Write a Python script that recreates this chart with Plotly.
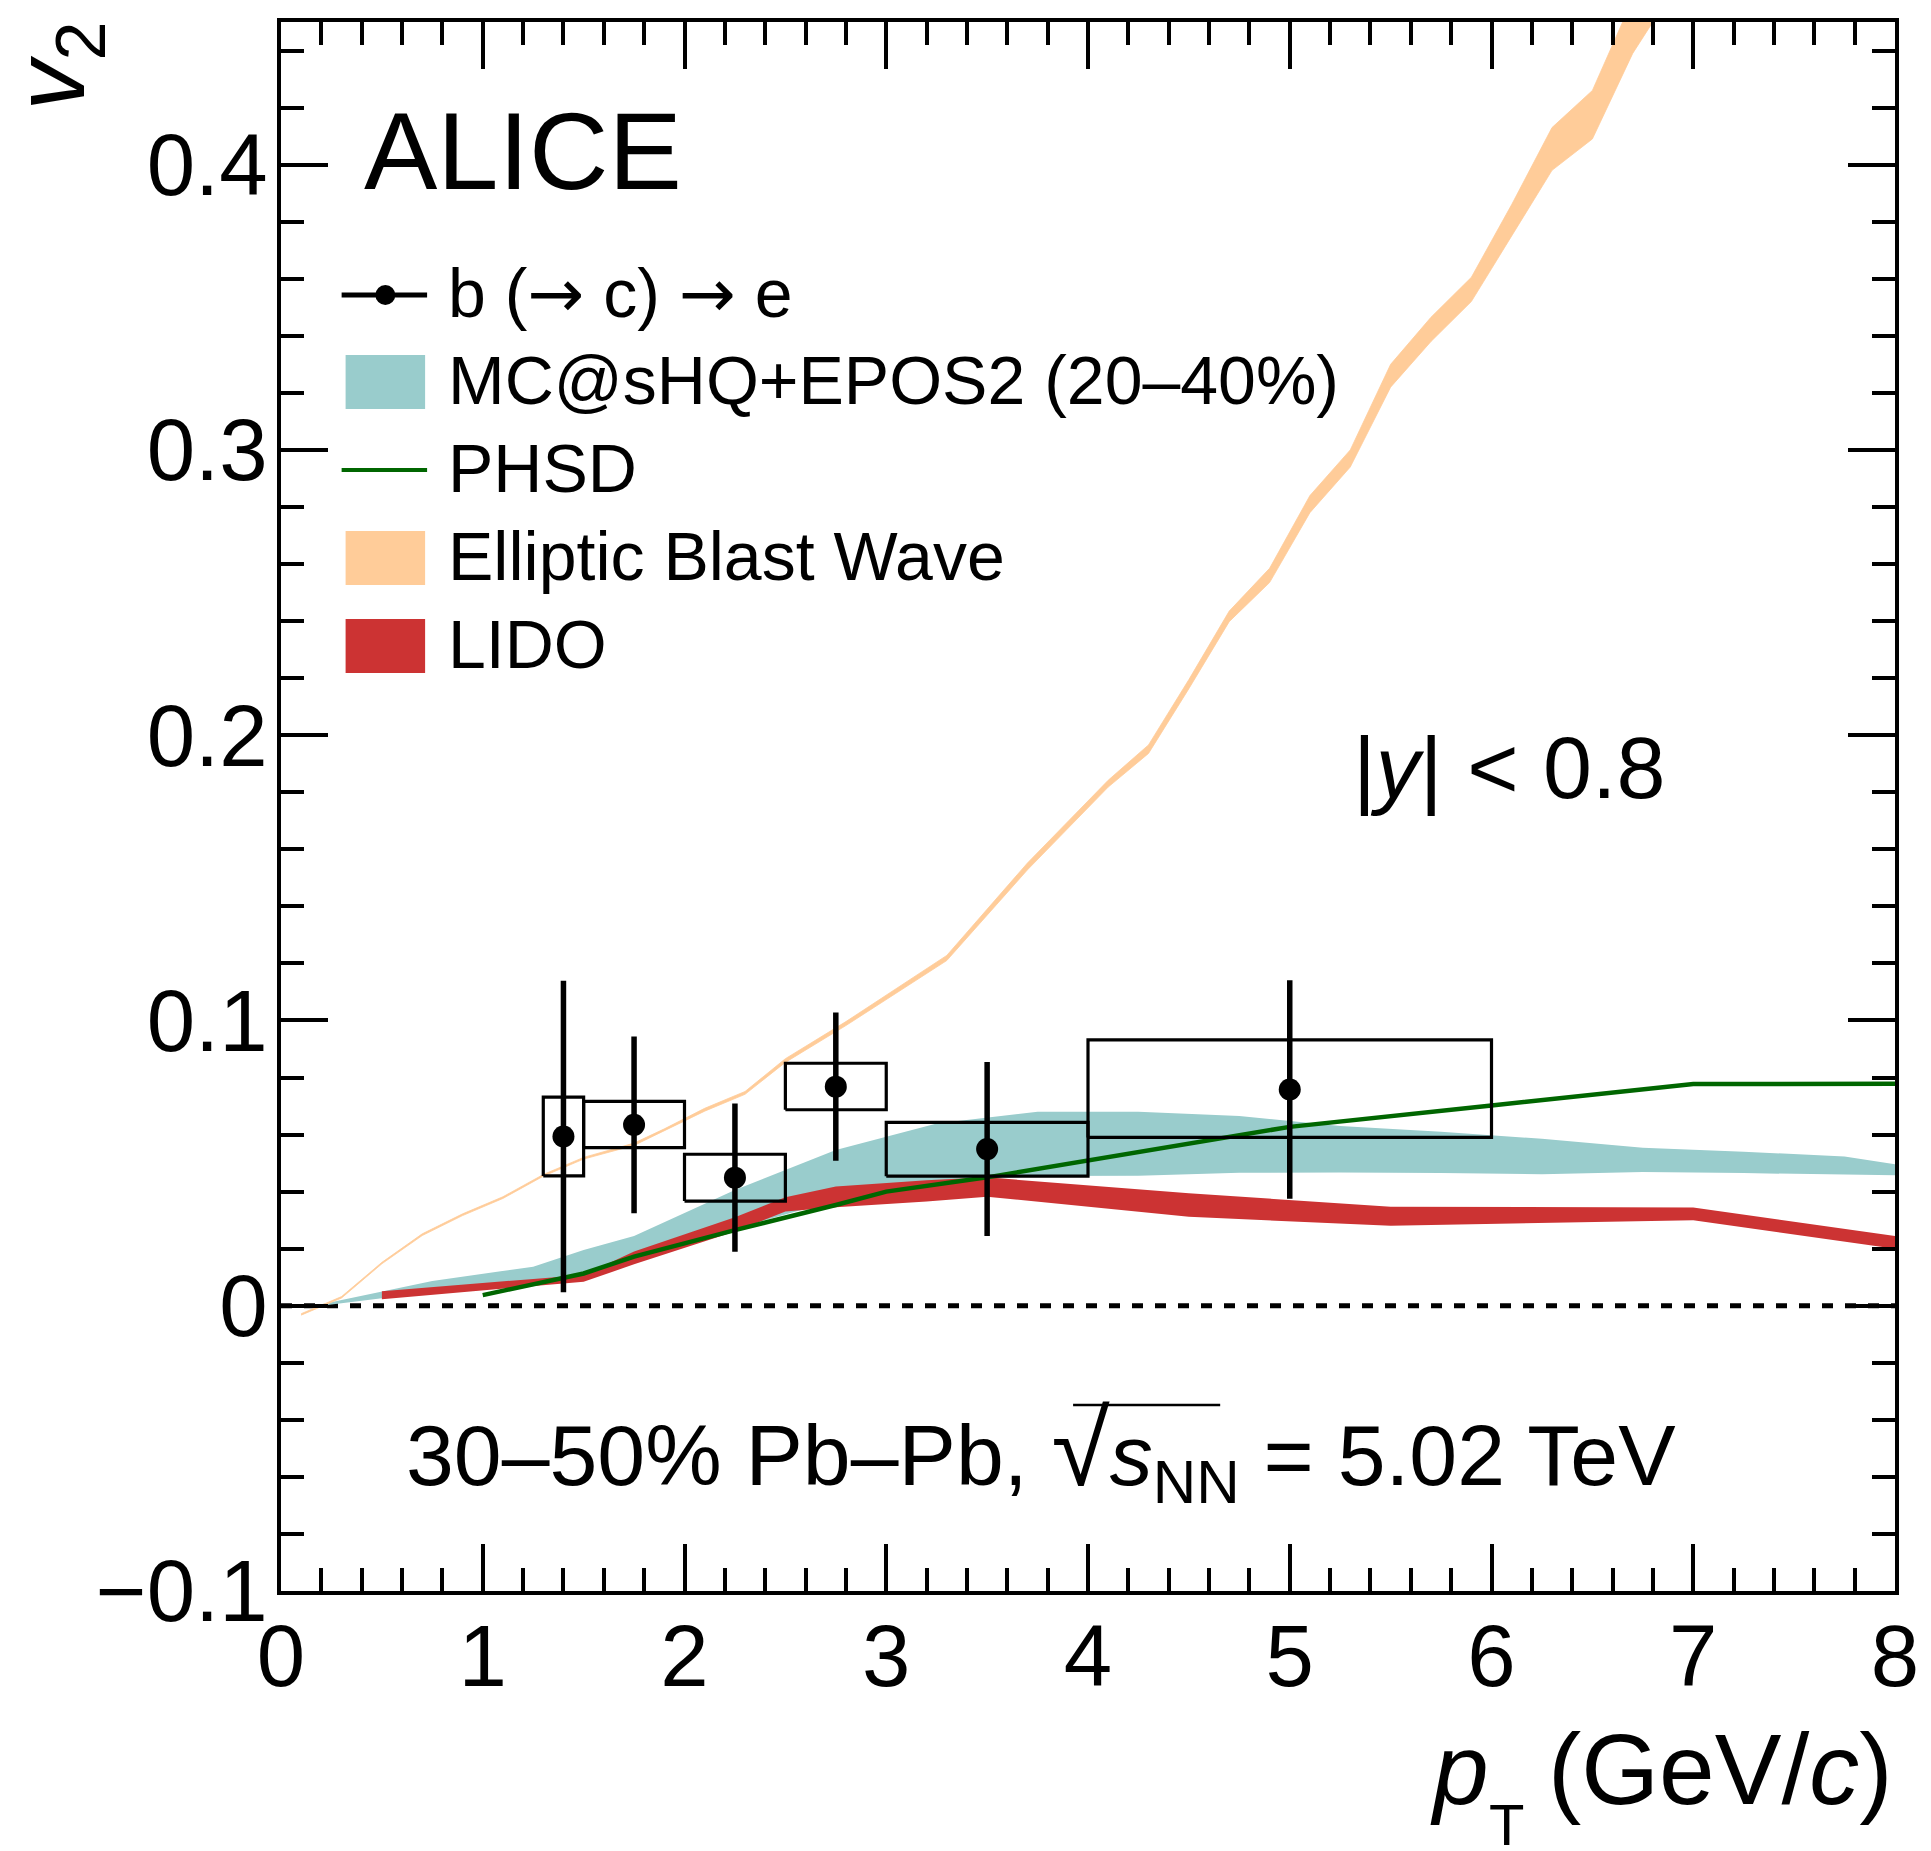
import plotly.graph_objects as go

# ---------------- data ----------------
pt = [1.4, 1.75, 2.25, 2.75, 3.5, 5.0]
v2 = [0.0593, 0.0634, 0.0449, 0.0768, 0.0549, 0.0758]
stat = [0.0546, 0.031, 0.026, 0.026, 0.0305, 0.0383]
box_x0 = [1.3, 1.5, 2.0, 2.5, 3.0, 4.0]
box_x1 = [1.5, 2.0, 2.5, 3.0, 4.0, 6.0]
sys_lo = [0.0455, 0.0554, 0.0367, 0.0687, 0.0454, 0.0590]
sys_hi = [0.0731, 0.0716, 0.0531, 0.0850, 0.0643, 0.0932]

mc_x = [0.2, 0.5, 0.75, 1.25, 1.5, 1.75, 2.25, 2.75, 3.25, 3.75, 4.25, 4.75, 5.25, 5.75, 6.25, 6.75, 7.25, 7.75, 8.0]
mc_hi = [0.0005, 0.005, 0.0087, 0.0137, 0.0195, 0.0244, 0.0406, 0.0546, 0.0639, 0.0680, 0.0680, 0.0665, 0.0630, 0.0610, 0.0585, 0.0554, 0.0540, 0.0523, 0.0496]
mc_lo = [0.0, 0.0026, 0.005, 0.0085, 0.0100, 0.0150, 0.0270, 0.0370, 0.0430, 0.0455, 0.0456, 0.0466, 0.0467, 0.0465, 0.0461, 0.0469, 0.0465, 0.0460, 0.0457]

bw_x = [0.1, 0.3, 0.5, 0.7, 0.9, 1.1, 1.3, 1.5, 1.75, 1.9, 2.1, 2.3, 2.5, 2.8, 3.3, 3.7, 4.1, 4.3, 4.5, 4.7, 4.9, 5.1, 5.3, 5.5, 5.7, 5.9, 6.1, 6.3, 6.5, 6.6, 6.7, 6.8]
bw_lo = [-0.0033, 0.0027, 0.0147, 0.0246, 0.0316, 0.0376, 0.0454, 0.0514, 0.0562, 0.0612, 0.0682, 0.0741, 0.0853, 0.0982, 0.1210, 0.1528, 0.1818, 0.1936, 0.2163, 0.2398, 0.2535, 0.2780, 0.2940, 0.3220, 0.3380, 0.3520, 0.3750, 0.3980, 0.4090, 0.4240, 0.4390, 0.4500]
bw_hi = [-0.0028, 0.0032, 0.0152, 0.0252, 0.0322, 0.0382, 0.0460, 0.0520, 0.0570, 0.0620, 0.0692, 0.0751, 0.0866, 0.0996, 0.1228, 0.1552, 0.1842, 0.1966, 0.2195, 0.2435, 0.2585, 0.2840, 0.3000, 0.3300, 0.3465, 0.3605, 0.3860, 0.4130, 0.4260, 0.4420, 0.4580, 0.4700]

lido_x = [0.5, 1.5, 1.75, 2.25, 2.5, 2.75, 3.2, 3.5, 4.5, 5.5, 7.0, 8.0]
lido_hi = [0.0051, 0.0108, 0.0190, 0.0310, 0.0380, 0.0418, 0.0440, 0.0450, 0.0394, 0.0347, 0.0344, 0.0244]
lido_lo = [0.0023, 0.0084, 0.0145, 0.0260, 0.0330, 0.0345, 0.0365, 0.0382, 0.0312, 0.0280, 0.0300, 0.0200]

phsd_x = [1.0, 1.5, 1.75, 2.25, 2.75, 3.0, 3.5, 4.0, 5.0, 6.0, 7.0, 8.0]
phsd_y = [0.0037, 0.0113, 0.0172, 0.0265, 0.0353, 0.0400, 0.0450, 0.0510, 0.0627, 0.0702, 0.0777, 0.0778]

x_ticks = [0, 1, 2, 3, 4, 5, 6, 7, 8]
x_ticklabels = ["0", "1", "2", "3", "4", "5", "6", "7", "8"]
y_ticks = [-0.1, 0, 0.1, 0.2, 0.3, 0.4]
y_ticklabels = ["\u22120.1", "0", "0.1", "0.2", "0.3", "0.4"]

ARROW = '<span style="font-family:DejaVu Sans">\u2192</span>'
legend_labels = ["b (" + ARROW + " c) " + ARROW + " e", "MC@sHQ+EPOS2 (20\u201340%)", "PHSD",
                 "Elliptic Blast Wave", "LIDO"]

TEAL = "#99cccc"
ORANGE = "#ffcc99"
RED = "#cc3333"
GREEN = "#006600"
FONT = "Liberation Sans, Arial, Helvetica, sans-serif"

W, H = 1931, 1851
L, R, T, B = 281, 26, 22, 260
PW, PH = W - L - R, H - T - B


def px(xp):
    return (xp - L) / PW


def py(yp):
    return (H - B - yp) / PH


def band(x, lo, hi):
    return x + x[::-1], hi + lo[::-1]


fig = go.Figure()

# zero line
fig.add_trace(go.Scatter(x=[x_ticks[0], x_ticks[-1]], y=[0, 0], mode="lines",
                         line=dict(color="black", width=5, dash="11px,12px"),
                         hoverinfo="skip", showlegend=False))

bx, by = band(mc_x, mc_lo, mc_hi)
fig.add_trace(go.Scatter(x=bx, y=by, fill="toself", fillcolor=TEAL, mode="lines",
                         line=dict(width=0, color=TEAL), showlegend=False))
bx, by = band(bw_x, bw_lo, bw_hi)
fig.add_trace(go.Scatter(x=bx, y=by, fill="toself", fillcolor=ORANGE, mode="lines",
                         line=dict(width=0.8, color=ORANGE), showlegend=False))
bx, by = band(lido_x, lido_lo, lido_hi)
fig.add_trace(go.Scatter(x=bx, y=by, fill="toself", fillcolor=RED, mode="lines",
                         line=dict(width=0, color=RED), showlegend=False))
fig.add_trace(go.Scatter(x=phsd_x, y=phsd_y, mode="lines",
                         line=dict(color=GREEN, width=4.5), showlegend=False))

# systematic boxes
sx, sy = [], []
for a, b_, lo, hi in zip(box_x0, box_x1, sys_lo, sys_hi):
    sx += [a, b_, b_, a, a, None]
    sy += [lo, lo, hi, hi, lo, None]
fig.add_trace(go.Scatter(x=sx, y=sy, mode="lines", line=dict(color="black", width=3.2),
                         showlegend=False))

# data points
fig.add_trace(go.Scatter(x=pt, y=v2, mode="markers",
                         marker=dict(color="black", size=22, symbol="circle"),
                         error_y=dict(type="data", array=stat, visible=True,
                                      color="black", thickness=5.5, width=0),
                         showlegend=False))

axis_common = dict(showline=True, linecolor="black", linewidth=4, mirror="ticks",
                   ticks="inside", tickwidth=4, ticklen=47, tickcolor="black",
                   showgrid=False, zeroline=False, ticklabeloverflow="allow",
                   tickfont=dict(family=FONT, size=87, color="black"))

fig.update_xaxes(range=[0, 8], tickvals=x_ticks, ticktext=x_ticklabels,
                 minor=dict(dtick=0.2, tick0=0, ticks="inside", ticklen=23, tickwidth=4,
                            tickcolor="black", showgrid=False),
                 ticklabelstandoff=-13, **axis_common)
fig.update_yaxes(range=[-0.1, 0.45], tickvals=y_ticks, ticktext=y_ticklabels,
                 minor=dict(dtick=0.02, tick0=0, ticks="inside", ticklen=23, tickwidth=4,
                            tickcolor="black", showgrid=False),
                 ticklabelstandoff=-8, **axis_common)

shapes = []
ann = []

# legend
leg_y = [295, 382, 470, 558, 646]
sw_x0, sw_x1 = 346, 426
shapes.append(dict(type="line", xref="paper", yref="paper", x0=px(342), x1=px(428),
                   y0=py(leg_y[0]), y1=py(leg_y[0]), line=dict(color="black", width=5)))
shapes.append(dict(type="circle", xref="paper", yref="paper", xsizemode="pixel", ysizemode="pixel",
                   xanchor=px(386), yanchor=py(leg_y[0]), x0=-10, x1=10, y0=-10, y1=10,
                   fillcolor="black", line=dict(color="black", width=0)))
for yy, col in [(leg_y[1], TEAL), (leg_y[3], ORANGE), (leg_y[4], RED)]:
    shapes.append(dict(type="rect", xref="paper", yref="paper", x0=px(sw_x0), x1=px(sw_x1),
                       y0=py(yy + 27), y1=py(yy - 27), fillcolor=col, line=dict(width=0)))
shapes.append(dict(type="line", xref="paper", yref="paper", x0=px(342), x1=px(428),
                   y0=py(leg_y[2]), y1=py(leg_y[2]), line=dict(color=GREEN, width=4)))
for yy, lab in zip(leg_y, legend_labels):
    ann.append(dict(text=lab, xref="paper", yref="paper", x=px(447), y=py(yy - 2),
                    xanchor="left", yanchor="middle", showarrow=False,
                    font=dict(family=FONT, size=68, color="black")))

# ALICE
ann.append(dict(text="ALICE", xref="paper", yref="paper", x=px(362), y=py(150),
                xanchor="left", yanchor="middle", showarrow=False,
                font=dict(family=FONT, size=110, color="black")))
# |y| < 0.8
ann.append(dict(text="|<i>y</i>| < 0.8", xref="paper", yref="paper", x=px(1358), y=py(767),
                xanchor="left", yanchor="middle", showarrow=False,
                font=dict(family=FONT, size=88, color="black")))
# collision system
ann.append(dict(text="30\u201350% Pb\u2013Pb, <span style=\"font-size:106px\">\u221a</span><i>s</i><sub>NN</sub> = 5.02 TeV",
                xref="paper", yref="paper", x=px(405), y=py(1452),
                xanchor="left", yanchor="middle", showarrow=False,
                font=dict(family=FONT, size=86, color="black")))
shapes.append(dict(type="line", xref="paper", yref="paper", x0=px(1078), x1=px(1226),
                   y0=py(1405), y1=py(1405), line=dict(color="black", width=2.5)))
# axis titles
ann.append(dict(text="(GeV/<i>c</i>)", xref="paper", yref="paper",
                x=1, y=py(1769), xanchor="right", yanchor="middle", showarrow=False,
                font=dict(family=FONT, size=100, color="black")))
ann.append(dict(text="<i>p</i>", xref="paper", yref="paper",
                x=px(1498), y=py(1769), xanchor="right", yanchor="middle", showarrow=False,
                font=dict(family=FONT, size=100, color="black")))
ann.append(dict(text="T", xref="paper", yref="paper",
                x=px(1494), y=py(1824), xanchor="left", yanchor="middle", showarrow=False,
                font=dict(family=FONT, size=58, color="black")))
ann.append(dict(text="<i>v</i><sub>2</sub>", xref="paper", yref="paper",
                x=px(56), y=py(66), xanchor="center", yanchor="middle", textangle=-90,
                showarrow=False, font=dict(family=FONT, size=100, color="black")))

fig.update_layout(width=W, height=H, margin=dict(l=L, r=R, t=T, b=B, pad=0),
                  paper_bgcolor="white", plot_bgcolor="white", showlegend=False,
                  shapes=shapes, annotations=ann, font=dict(family=FONT))

fig.write_html("out.html")
